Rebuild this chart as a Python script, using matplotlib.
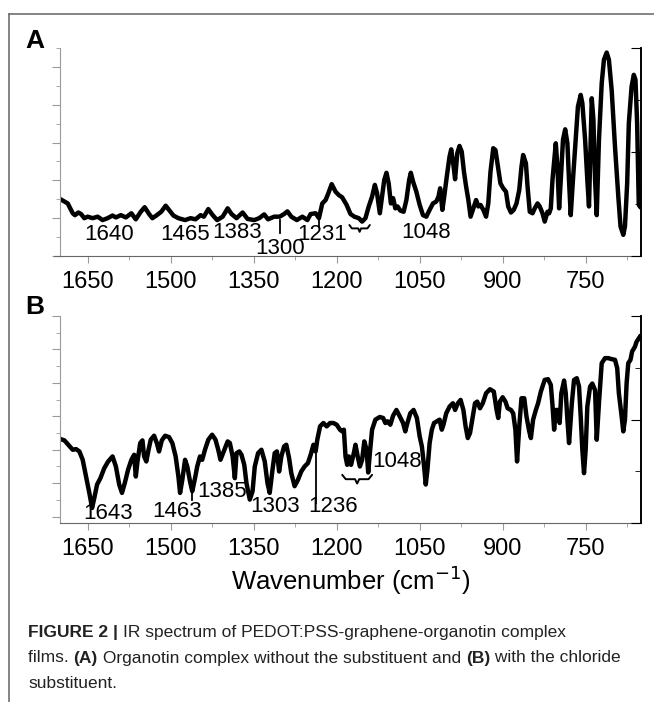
import matplotlib
matplotlib.use('Agg')
import matplotlib.pyplot as plt
from matplotlib.ticker import MultipleLocator, FixedLocator, NullFormatter
from matplotlib.lines import Line2D

plt.rcParams['font.family'] = ['Liberation Sans', 'DejaVu Sans']

# panel A: wavenumber (cm-1) and signal (arb. units)
a_wn = [1699, 1686, 1677, 1673, 1667, 1662, 1656, 1650, 1641, 1632, 1623, 1614, 1605, 1599,
        1590, 1581, 1571, 1563, 1554, 1547, 1539, 1533, 1525, 1517, 1509, 1503, 1495, 1486,
        1474, 1464, 1455, 1446, 1440, 1432, 1424, 1416, 1406, 1397, 1390, 1381, 1370, 1361,
        1349, 1340, 1331, 1324, 1313, 1303, 1295, 1289, 1282, 1272, 1262, 1253, 1247, 1238,
        1232, 1226, 1220, 1215, 1209, 1202, 1196, 1190, 1182, 1175, 1168, 1160, 1154, 1148,
        1142, 1136, 1131, 1127, 1122, 1118, 1114, 1110, 1106, 1102, 1098, 1094, 1090, 1085,
        1079, 1074, 1069, 1066, 1062, 1056, 1050, 1044, 1038, 1032, 1026, 1020, 1016, 1013,
        1009, 1006, 1001, 996, 993, 989, 986, 982, 978, 974, 970, 966, 962, 958, 953, 948,
        944, 940, 935, 930, 926, 922, 917, 913, 908, 904, 899, 894, 890, 885, 880, 875, 870,
        866, 863, 858, 855, 851, 846, 842, 837, 833, 828, 824, 819, 816, 813, 810, 806, 804,
        801, 798, 795, 791, 787, 783, 780, 777, 773, 768, 764, 759, 756, 751, 747, 744, 741,
        739, 736, 733, 730, 726, 721, 717, 712, 708, 703, 697, 691, 687, 682, 679, 675, 672,
        667, 663, 660, 657, 654, 652]
a_val = [1.50, 1.39, 1.13, 1.08, 1.15, 1.11, 1.00, 1.04, 1.00, 1.04, 0.95, 1.00, 1.07, 1.02,
         1.08, 1.02, 1.13, 0.97, 1.17, 1.29, 1.11, 1.00, 1.08, 1.17, 1.33, 1.22, 1.07, 1.00,
         0.95, 1.00, 0.97, 1.08, 1.04, 1.24, 1.08, 0.95, 1.04, 1.26, 1.11, 1.00, 1.15, 0.98,
         0.95, 1.00, 1.10, 0.97, 1.04, 1.04, 1.11, 1.18, 1.04, 0.95, 1.04, 0.95, 1.11, 1.13,
         1.00, 1.39, 1.48, 1.66, 1.90, 1.70, 1.61, 1.55, 1.35, 1.11, 1.04, 1.00, 0.91, 1.00,
         1.31, 1.57, 1.88, 1.66, 1.13, 1.57, 2.01, 2.20, 1.92, 1.39, 1.53, 1.26, 1.31, 1.20,
         1.17, 1.48, 2.01, 2.20, 1.97, 1.70, 1.35, 1.08, 1.04, 1.22, 1.39, 1.44, 1.57, 1.79,
         1.22, 1.53, 2.10, 2.63, 2.82, 2.41, 2.03, 2.72, 2.91, 2.76, 2.23, 1.83, 1.48, 1.04,
         1.26, 1.48, 1.31, 1.35, 1.22, 1.04, 1.39, 2.23, 2.85, 2.80, 2.32, 1.92, 1.79, 1.70,
         1.31, 1.15, 1.22, 1.39, 1.75, 2.36, 2.67, 2.45, 1.83, 1.17, 1.13, 1.26, 1.39, 1.31,
         1.13, 0.91, 1.17, 1.13, 1.26, 2.01, 2.67, 2.98, 2.36, 1.26, 2.01, 3.07, 3.35, 2.98,
         1.97, 1.08, 2.01, 3.07, 3.95, 4.26, 4.04, 3.07, 2.01, 1.31, 3.07, 4.17, 3.60, 2.01,
         1.08, 3.07, 4.57, 5.19, 5.38, 5.19, 4.39, 2.89, 1.57, 0.78, 0.56, 0.78, 1.92, 3.51,
         4.48, 4.79, 4.66, 3.51, 1.35, 1.31]

# panel B
b_wn = [1699, 1692, 1685, 1677, 1671, 1665, 1659, 1653, 1647, 1642, 1638, 1633, 1627, 1620,
        1613, 1605, 1599, 1593, 1588, 1583, 1577, 1571, 1566, 1563, 1560, 1555, 1551, 1548,
        1544, 1540, 1536, 1530, 1525, 1521, 1516, 1510, 1503, 1497, 1491, 1486, 1483, 1479,
        1474, 1470, 1465, 1461, 1456, 1452, 1447, 1443, 1438, 1432, 1425, 1419, 1414, 1410,
        1403, 1397, 1393, 1388, 1384, 1381, 1376, 1372, 1367, 1363, 1357, 1352, 1348, 1342,
        1336, 1330, 1325, 1321, 1316, 1312, 1308, 1304, 1300, 1295, 1291, 1286, 1282, 1276,
        1270, 1264, 1258, 1252, 1247, 1242, 1238, 1235, 1230, 1224, 1218, 1212, 1206, 1200,
        1194, 1190, 1187, 1184, 1181, 1178, 1174, 1169, 1166, 1162, 1158, 1154, 1150, 1146,
        1143, 1140, 1136, 1130, 1122, 1116, 1112, 1108, 1103, 1098, 1092, 1086, 1080, 1076,
        1073, 1067, 1061, 1055, 1050, 1046, 1042, 1039, 1036, 1032, 1028, 1024, 1019, 1014,
        1010, 1007, 1002, 996, 990, 986, 981, 976, 971, 967, 963, 959, 954, 950, 946, 941,
        936, 930, 923, 916, 911, 908, 905, 900, 895, 891, 885, 881, 877, 874, 870, 866, 861,
        857, 852, 849, 845, 840, 836, 831, 824, 818, 813, 810, 807, 804, 801, 797, 794, 789,
        786, 783, 780, 775, 771, 766, 762, 759, 756, 753, 750, 747, 742, 738, 733, 730, 726,
        721, 715, 709, 703, 697, 693, 690, 685, 682, 679, 676, 673, 669, 666, 661, 658, 653,
        652]
b_val = [2.32, 2.28, 2.15, 2.00, 2.02, 1.95, 1.70, 1.20, 0.71, 0.26, 0.56, 0.96, 1.15, 1.45,
         1.65, 1.80, 1.50, 0.96, 0.71, 1.00, 1.40, 1.70, 1.85, 1.20, 1.65, 2.20, 2.28, 1.80,
         1.65, 2.00, 2.30, 2.42, 2.20, 1.95, 2.28, 2.42, 2.38, 2.20, 1.80, 1.20, 0.71, 1.10,
         1.70, 1.50, 1.05, 0.76, 1.15, 1.50, 1.80, 1.70, 2.00, 2.30, 2.45, 2.30, 2.00, 1.70,
         2.00, 2.25, 2.20, 1.80, 1.15, 1.90, 1.95, 1.85, 1.55, 1.00, 0.51, 0.76, 1.50, 1.90,
         2.00, 1.65, 1.00, 0.71, 1.40, 1.90, 1.95, 1.35, 1.80, 2.10, 2.15, 1.75, 1.30, 0.91,
         1.10, 1.35, 1.50, 1.60, 1.85, 2.15, 1.95, 2.30, 2.70, 2.80, 2.70, 2.80, 2.80, 2.75,
         2.60, 2.55, 2.60, 1.80, 1.55, 1.80, 1.55, 1.90, 2.15, 1.80, 1.50, 1.70, 2.25, 2.00,
         1.32, 1.90, 2.60, 2.90, 2.98, 2.95, 2.80, 2.85, 2.75, 3.02, 3.19, 3.00, 2.80, 2.55,
         2.75, 3.09, 3.19, 2.95, 2.40, 2.10, 1.50, 0.96, 1.40, 2.20, 2.60, 2.80, 2.85, 2.90,
         2.60, 2.75, 3.09, 3.29, 3.39, 3.19, 3.39, 3.49, 3.19, 2.70, 2.35, 2.50, 3.00, 3.39,
         3.44, 3.24, 3.39, 3.69, 3.81, 3.74, 3.19, 2.95, 3.44, 3.57, 3.44, 3.24, 3.19, 3.09,
         2.60, 1.65, 2.70, 3.54, 3.54, 3.00, 2.55, 2.35, 2.90, 3.19, 3.39, 3.74, 4.09, 4.11,
         3.94, 3.34, 2.60, 3.19, 3.19, 2.80, 3.69, 4.07, 3.69, 2.90, 2.20, 3.39, 4.09, 4.14,
         3.89, 3.00, 2.00, 1.30, 2.00, 3.29, 3.89, 3.98, 3.78, 2.30, 3.39, 4.59, 4.74, 4.74,
         4.71, 4.69, 4.44, 3.69, 3.00, 2.55, 2.90, 3.99, 4.59, 4.69, 4.94, 5.08, 5.23, 5.36,
         5.38]

# peak labels: text, wavenumber, height
a_labels = [('1640', 1611, 0.56), ('1465', 1474, 0.56), ('1383', 1380, 0.61),
            ('1300', 1303, 0.21), ('1231', 1227, 0.56), ('1048', 1038, 0.61)]
a_marks = [(1303, 0.95, 0.60), (1232, 0.95, 0.78)]
a_brace = (1177, 1140, 0.82, 0.09)

b_labels = [('1643', 1614, 0.09), ('1463', 1488, 0.15), ('1385', 1407, 0.75),
            ('1303', 1311, 0.30), ('1236', 1206, 0.30), ('1048', 1091, 1.64)]
b_marks = [(1462, 0.73, 0.49), (1238, 1.95, 0.41)]
b_brace = (1190, 1136, 1.25, 0.13)

xticks = [1650, 1500, 1350, 1200, 1050, 900, 750]

W, H = 654, 702
fig = plt.figure(figsize=(W / 100, H / 100), dpi=100)

gray = '#9a9a9a'


def brace(ax, x0, x1, ytop, d):
    w = x1 - x0
    xc = (x0 + x1) / 2
    xs = [x0, x0 + 0.12 * w, xc - 0.07 * w, xc, xc + 0.07 * w, x1 - 0.12 * w, x1]
    ys = [ytop, ytop - d, ytop - d, ytop - 2 * d, ytop - d, ytop - d, ytop]
    ax.plot(xs, ys, color='black', lw=1.4, solid_capstyle='round')


def setup(ax, ylim, ymax_major):
    ax.set_xlim(1700, 650)
    ax.set_ylim(*ylim)
    ax.spines['top'].set_visible(False)
    ax.spines['left'].set_color(gray)
    ax.spines['bottom'].set_color('#666666')
    ax.spines['right'].set_color('black')
    ax.spines['right'].set_linewidth(1.2)
    ax.set_xticks(xticks)
    ax.xaxis.set_minor_locator(MultipleLocator(75))
    ax.yaxis.set_major_locator(FixedLocator(range(0, ymax_major + 1)))
    ax.yaxis.set_minor_locator(MultipleLocator(0.5))
    ax.yaxis.set_major_formatter(NullFormatter())
    ax.tick_params(axis='x', which='major', length=5, color=gray, labelsize=17, pad=6)
    ax.tick_params(axis='x', which='minor', length=3, color=gray)
    ax.tick_params(axis='y', which='major', length=6, color=gray, right=False)
    ax.tick_params(axis='y', which='minor', length=3, color=gray, right=False)
    tw = ax.twinx()
    tw.set_ylim(0, 4)
    for s in ('top', 'left', 'bottom'):
        tw.spines[s].set_visible(False)
    tw.spines['right'].set_linewidth(1.2)
    tw.yaxis.set_major_locator(FixedLocator([0, 2, 4]))
    tw.yaxis.set_minor_locator(FixedLocator([1, 3]))
    tw.yaxis.set_major_formatter(NullFormatter())
    tw.tick_params(axis='y', which='major', direction='in', length=7, color='black')
    tw.tick_params(axis='y', which='minor', direction='in', length=4, color='black')


def annotate(ax, labels, marks, br):
    for txt, x, y in labels:
        ax.text(x, y, txt, ha='center', va='center', fontsize=16)
    for x, y0, y1 in marks:
        ax.plot([x, x], [y0, y1], color='black', lw=1.3)
    brace(ax, *br)


axA = fig.add_axes([60 / W, 1 - 256 / H, 581 / W, 208 / H])
setup(axA, (0, 5.5), 5)
axA.plot(a_wn, a_val, color='black', lw=3.2, solid_joinstyle='round')
annotate(axA, a_labels, a_marks, a_brace)
# bottom axis line runs a little past the left spine
axA.plot([-0.011, 0], [0, 0], transform=axA.transAxes, color='#666666', lw=0.8, clip_on=False)

axB = fig.add_axes([60 / W, 1 - 523 / H, 581 / W, 207 / H])
setup(axB, (-0.19, 6), 6)
axB.plot(b_wn, b_val, color='black', lw=3.2, solid_joinstyle='round')
annotate(axB, b_labels, b_marks, b_brace)
axB.set_xlabel('Wavenumber (cm$^{-1}$)', fontsize=18.5, labelpad=2)

fig.text(25 / W, 1 - 41 / H, 'A', fontsize=19, weight='bold', va='center')
fig.text(25 / W, 1 - 307 / H, 'B', fontsize=19, weight='bold', va='center')

# frame
fig.add_artist(Line2D([9 / W, 1], [1 - 14 / H, 1 - 14 / H], color='#707070', lw=1.2))
fig.add_artist(Line2D([9 / W, 9 / W], [0, 1 - 14 / H], color='#707070', lw=1.2))

# caption with bold parts, size fitted so line 2 spans like the reference
cap_font = ['DejaVu Sans Condensed', 'Liberation Sans Narrow', 'Liberation Sans', 'DejaVu Sans']
lines = [
    [('FIGURE 2 | ', 'bold'), ('IR spectrum of PEDOT:PSS-graphene-organotin complex', 'normal')],
    [('films. ', 'normal'), ('(A)', 'bold'), (' Organotin complex without the substituent and ', 'normal'),
     ('(B)', 'bold'), (' with the chloride', 'normal')],
    [('substituent.', 'normal')],
]
ys = [632, 658, 684]
fig.canvas.draw()
r = fig.canvas.get_renderer()


def place_line(parts, yp, size):
    x = 28
    made = []
    for s, w in parts:
        t = fig.text(x / W, 1 - yp / H, s, fontsize=size, weight=w, family=cap_font,
                     va='center', ha='left', color='#222222')
        x += t.get_window_extent(renderer=r).width
        made.append(t)
    return x, made


size = 14.0
end, made = place_line(lines[1], ys[1], size)
for t in made:
    t.remove()
size = size * (622 - 28) / (end - 28)
for parts, yp in zip(lines, ys):
    place_line(parts, yp, size)

fig.savefig('out.png', dpi=100)
